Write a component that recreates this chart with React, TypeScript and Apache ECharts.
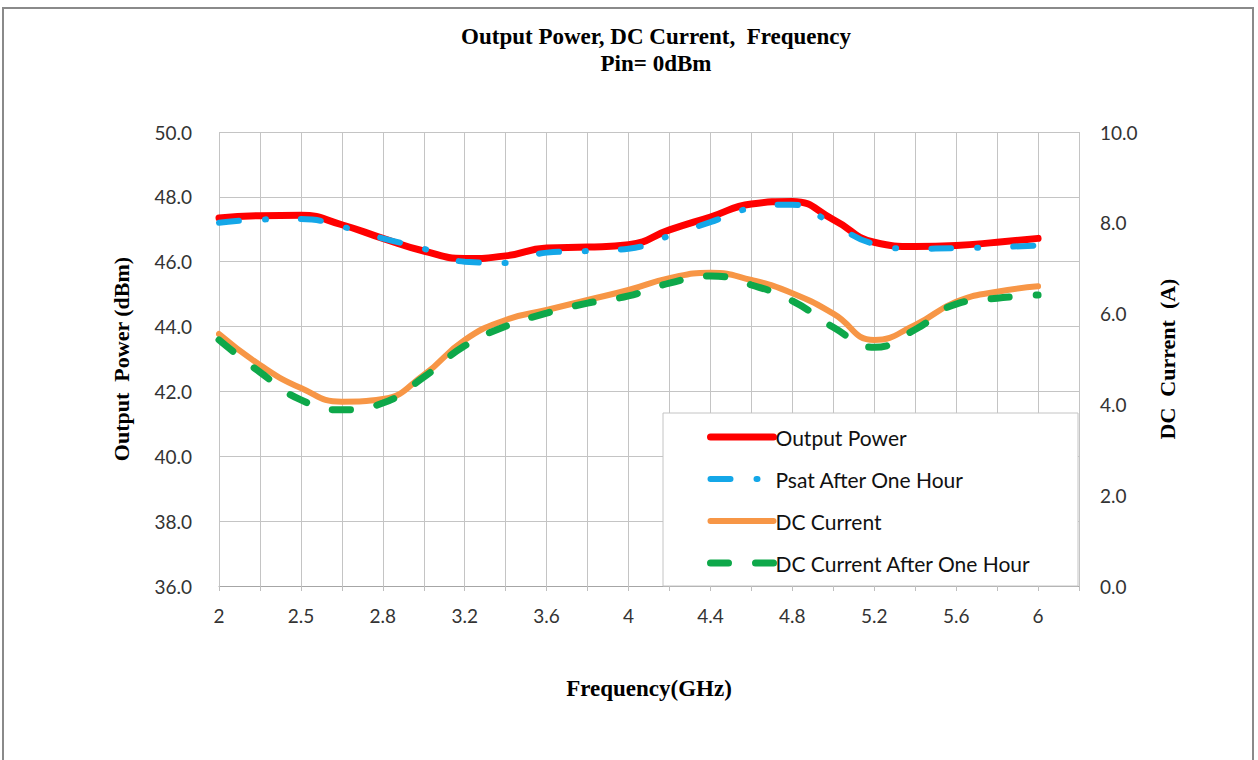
import React, { useEffect, useRef } from "react";
import * as echarts from "echarts";

const frequencies = ["2", "2.2", "2.5", "2.6", "2.8", "3", "3.2", "3.4", "3.6", "3.8", "4", "4.2", "4.4", "4.6", "4.8", "5", "5.2", "5.4", "5.6", "5.8", "6", ""];
const outputPower = [47.35, 47.42, 47.43, 47.14, 46.72, 46.33, 46.1, 46.18, 46.42, 46.45, 46.52, 46.98, 47.38, 47.78, 47.86, 47.3, 46.6, 46.47, 46.5, 46.6, 46.72];
const psatAfterOneHour = [47.2, 47.3, 47.32, 47.08, 46.72, 46.4, 46.0, 45.96, 46.28, 46.33, 46.4, 46.8, 47.22, 47.65, 47.76, 47.15, 46.55, 46.4, 46.42, 46.45, 46.5];
const dcCurrent = [5.55, 4.87, 4.36, 4.06, 4.12, 4.65, 5.42, 5.86, 6.08, 6.3, 6.52, 6.78, 6.9, 6.74, 6.45, 6.0, 5.42, 5.75, 6.26, 6.48, 6.6];
const dcCurrentAfterOneHour = [5.42, 4.71, 4.1, 3.88, 4.03, 4.6, 5.29, 5.72, 6.01, 6.23, 6.39, 6.67, 6.83, 6.63, 6.28, 5.7, 5.26, 5.65, 6.21, 6.34, 6.41];
const leftTicks = { min: 36, max: 50, interval: 2 };
const rightTicks = { min: 0, max: 10, interval: 2 };

const LABEL_FONT = "Lato, 'Noto Sans', sans-serif";
const SERIF = "'Liberation Serif', 'Times New Roman', serif";

export default function App() {
  const ref = useRef<HTMLDivElement>(null);
  useEffect(() => {
    if (!ref.current) return;
    const chart = echarts.init(ref.current, undefined, { renderer: "svg" });
    chart.setOption({
      animation: false,
      backgroundColor: "#ffffff",
      title: {
        text: "Output Power, DC Current,  Frequency\nPin= 0dBm",
        left: 651,
        top: 18,
        textAlign: "center",
        textStyle: { fontFamily: SERIF, fontWeight: "bold", fontSize: 23, lineHeight: 27, color: "#000" },
      },
      grid: { left: 219, top: 132, right: 179, bottom: 174, containLabel: false },
      xAxis: {
        type: "category",
        data: frequencies,
        boundaryGap: false,
        axisLine: { lineStyle: { color: "#a6a6a6", width: 1 } },
        axisTick: { show: true, interval: 0, length: 5, lineStyle: { color: "#bfbfbf" } },
        axisLabel: { interval: 1, margin: 20, fontFamily: LABEL_FONT, fontSize: 19, color: "#333" },
        splitLine: { show: true, interval: 0, lineStyle: { color: "#c4c4c4", width: 1 } },
        name: "Frequency(GHz)",
        nameLocation: "middle",
        nameGap: 91,
        nameTextStyle: { fontFamily: SERIF, fontWeight: "bold", fontSize: 23, color: "#000" },
      },
      yAxis: [
        {
          type: "value",
          ...leftTicks,
          axisLine: { show: false },
          axisTick: { show: false },
          axisLabel: { margin: 27, fontFamily: LABEL_FONT, fontSize: 19, color: "#333", formatter: (v: number) => v.toFixed(1) },
          splitLine: { show: true, lineStyle: { color: "#c4c4c4", width: 1 } },
          name: "Output  Power (dBm)",
          nameLocation: "middle",
          nameRotate: 90,
          nameGap: 87,
          nameTextStyle: { fontFamily: SERIF, fontWeight: "bold", fontSize: 22, color: "#000" },
        },
        {
          type: "value",
          ...rightTicks,
          position: "right",
          axisLine: { show: false },
          axisTick: { show: false },
          axisLabel: { margin: 21, fontFamily: LABEL_FONT, fontSize: 19, color: "#333", formatter: (v: number) => v.toFixed(1) },
          splitLine: { show: false },
          name: "DC  Current  (A)",
          nameLocation: "middle",
          nameRotate: 90,
          nameGap: 77,
          nameTextStyle: { fontFamily: SERIF, fontWeight: "bold", fontSize: 22, color: "#000" },
        },
      ],
      legend: {
        orient: "vertical",
        left: 707,
        top: 426,
        z: 5,
        itemWidth: 63,
        itemHeight: 14,
        itemGap: 20,
        padding: 0,
        itemStyle: { opacity: 0 },
        lineStyle: { width: "inherit", type: "inherit", cap: "round" },
        textStyle: { fontFamily: LABEL_FONT, fontSize: 21, lineHeight: 22, color: "#111", padding: [0, 0, 0, -3] },
        data: ["Output Power", "Psat After One Hour", "DC Current", "DC Current After One Hour"],
      },
      graphic: [
        {
          type: "rect",
          z: 3,
          shape: { x: 663, y: 413, width: 415, height: 173 },
          style: { fill: "#ffffff", stroke: "#c4c4c4", lineWidth: 1 },
        },
        {
          type: "rect",
          z: 10,
          silent: true,
          shape: { x: 3, y: 8, width: 1250, height: 770 },
          style: { fill: "none", stroke: "#8a8a8a", lineWidth: 2 },
        },
      ],
      series: [
        {
          name: "Output Power",
          type: "line",
          yAxisIndex: 0,
          data: outputPower,
          smooth: 0.5,
          symbol: "none",
          z: 2,
          lineStyle: { color: "#ff0000", width: 7, cap: "round" },
          itemStyle: { color: "#ff0000" },
        },
        {
          name: "Psat After One Hour",
          type: "line",
          yAxisIndex: 0,
          data: psatAfterOneHour,
          smooth: 0.5,
          symbol: "none",
          z: 3,
          lineStyle: { color: "#14a7e8", width: 6, cap: "round", type: [20, 26, 1, 35] },
          itemStyle: { color: "#14a7e8" },
        },
        {
          name: "DC Current",
          type: "line",
          yAxisIndex: 1,
          data: dcCurrent,
          smooth: 0.5,
          symbol: "none",
          z: 2,
          lineStyle: { color: "#f79646", width: 6, cap: "round" },
          itemStyle: { color: "#f79646" },
        },
        {
          name: "DC Current After One Hour",
          type: "line",
          yAxisIndex: 1,
          data: dcCurrentAfterOneHour,
          smooth: 0.5,
          symbol: "none",
          z: 3,
          lineStyle: { color: "#0ea84a", width: 7, cap: "round", type: [18, 27] },
          itemStyle: { color: "#0ea84a" },
        },
      ],
    });
    return () => chart.dispose();
  }, []);
  return <div ref={ref} style={{ position: "absolute", left: 0, top: 0, width: 1258, height: 760 }} />;
}
